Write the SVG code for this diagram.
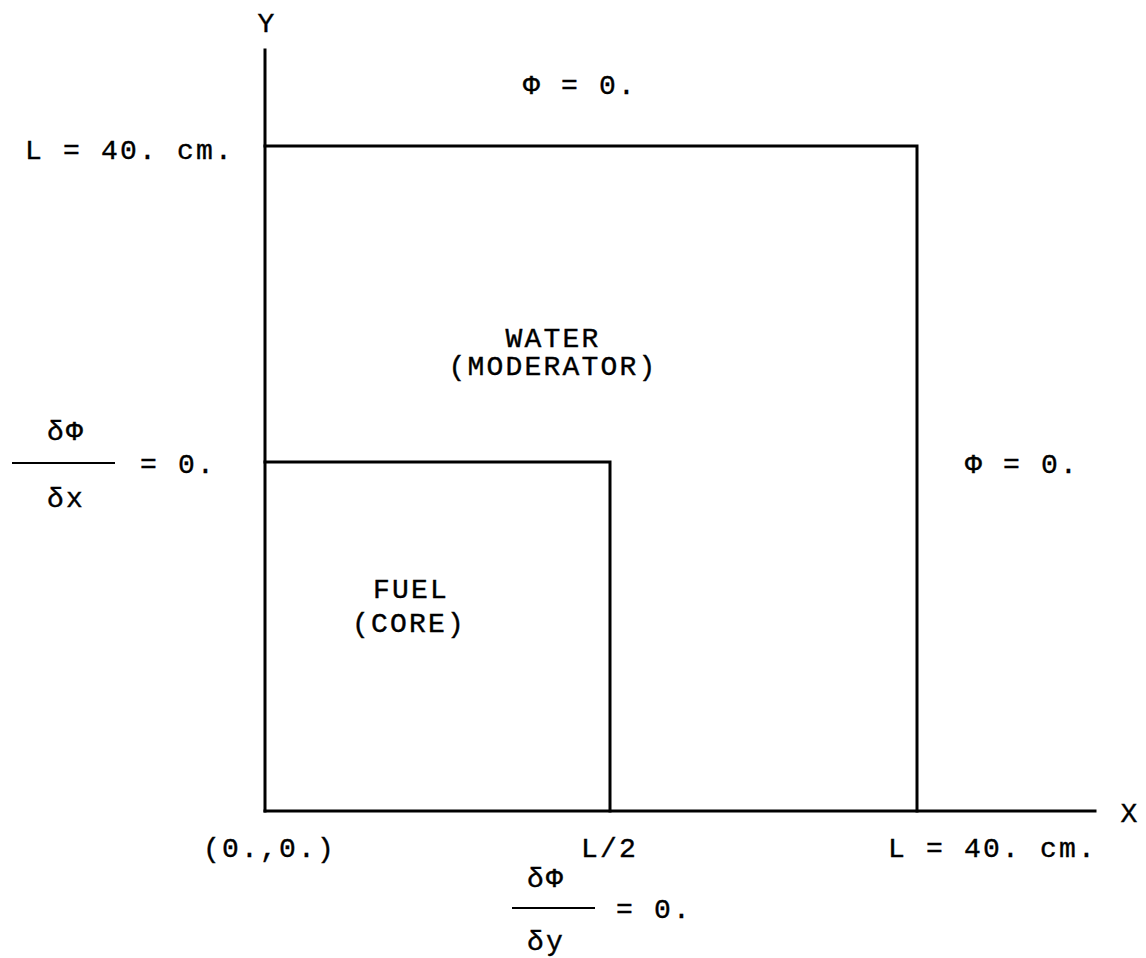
<svg xmlns="http://www.w3.org/2000/svg" width="1146" height="958" viewBox="0 0 1146 958">
<style>
.t{font-family:"Liberation Mono","DejaVu Sans Mono",monospace;font-size:28px;letter-spacing:2.2px;fill:#000;stroke:#000;stroke-width:0.4px}
.m{text-anchor:middle}
.ln{stroke:#000;stroke-width:3;fill:none;stroke-linecap:square}
.fr{stroke:#000;stroke-width:2.2;fill:none}
</style>
<rect width="1146" height="958" fill="#fff"/>
<g id="axes">
<line class="ln" x1="265" y1="50" x2="265" y2="811"/>
<line class="ln" x1="265" y1="811" x2="1095" y2="811"/>
<text class="t m" x="267" y="32">Y</text>
<text class="t m" x="1130" y="822">X</text>
</g>
<g id="water">
<polyline class="ln" points="265,146 917,146 917,811"/>
<text class="t m" x="553" y="347">WATER</text>
<text class="t m" x="553" y="375">(MODERATOR)</text>
</g>
<g id="fuel">
<polyline class="ln" points="265,462 610,462 610,811"/>
<text class="t m" x="411" y="598">FUEL</text>
<text class="t m" x="409" y="632">(CORE)</text>
</g>
<g id="labels">
<text class="t" x="523" y="94">Φ = 0.</text>
<text class="t" x="25" y="159">L = 40. cm.</text>
<text class="t" x="965" y="473">Φ = 0.</text>
<text class="t" x="203" y="857">(0.,0.)</text>
<text class="t" x="581" y="857">L/2</text>
<text class="t" x="888" y="857">L = 40. cm.</text>
</g>
<g id="bc-left">
<text class="t m" x="66" y="440">δΦ</text>
<line class="fr" x1="12" y1="463" x2="115" y2="463"/>
<text class="t m" x="66" y="507">δx</text>
<text class="t" x="140" y="473">= 0.</text>
</g>
<g id="bc-bottom">
<text class="t m" x="546" y="887">δΦ</text>
<line class="fr" x1="512" y1="908" x2="595" y2="908"/>
<text class="t m" x="546" y="950">δy</text>
<text class="t" x="616" y="918">= 0.</text>
</g>
</svg>
